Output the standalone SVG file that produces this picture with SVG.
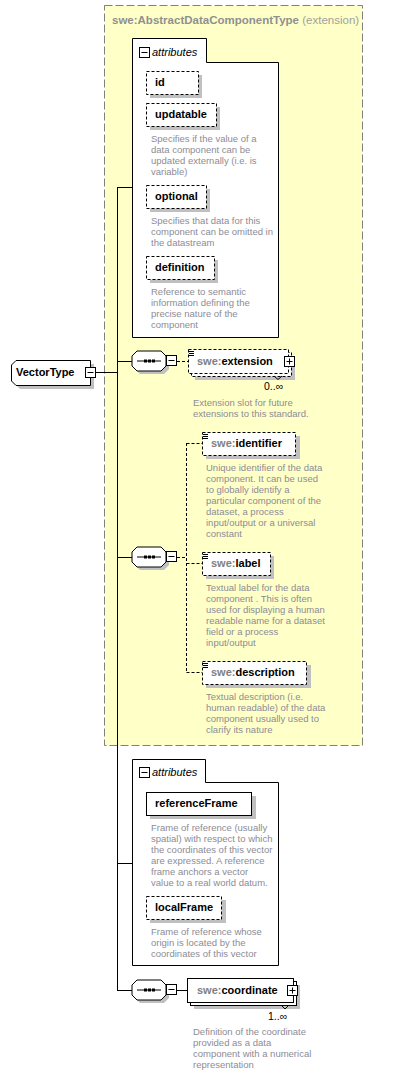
<svg xmlns="http://www.w3.org/2000/svg" width="406" height="1075" viewBox="0 0 406 1075">
<style>
.name{font-family:"Liberation Sans",Arial,sans-serif;font-size:11px;font-weight:bold;fill:#000}
.pre{fill:#808080}
.desc{font-family:"Liberation Sans",Arial,sans-serif;font-size:9.5px;fill:#8c8c96}
.attrlbl{font-family:"Liberation Sans",Arial,sans-serif;font-size:11px;font-style:italic;fill:#000}
.occ{font-family:"Liberation Sans",Arial,sans-serif;font-size:10.5px;fill:#000}
.shadow{fill:#c0c0c0;stroke:none}
.box{fill:#fff;stroke:#000;stroke-width:1}
.dbox{fill:#fff;stroke:#000;stroke-width:1;stroke-dasharray:3,2}
.line{stroke:#000;stroke-width:1;fill:none}
.dline{stroke:#000;stroke-width:1;fill:none;stroke-dasharray:3,2}
.icon{fill:#fff;stroke:#000;stroke-width:1}
</style>
<defs>
<g id="comp">
<polygon class="shadow" points="8,3 32,3 37,8 37,18 32,23 8,23 3,18 3,8"/>
<polygon class="box" points="5,0 29,0 34,5 34,15 29,20 5,20 0,15 0,5"/>
<line class="line" x1="5" y1="10" x2="29" y2="10"/>
<rect x="12" y="8.5" width="3" height="3" fill="#000"/>
<rect x="16" y="8.5" width="3" height="3" fill="#000"/>
<rect x="20" y="8.5" width="3" height="3" fill="#000"/>
<rect class="icon" x="34.5" y="4.5" width="10" height="10"/>
<line class="line" x1="36.5" y1="9.5" x2="42.5" y2="9.5"/>
</g>
<g id="minus">
<rect class="icon" x="0.5" y="0.5" width="10" height="10"/>
<line class="line" x1="2.5" y1="5.5" x2="8.5" y2="5.5"/>
</g>
<g id="plus">
<rect class="icon" x="0.5" y="0.5" width="10" height="10"/>
<line class="line" x1="2.5" y1="5.5" x2="8.5" y2="5.5"/>
<line class="line" x1="5.5" y1="2.5" x2="5.5" y2="8.5"/>
</g>
<g id="menu">
<line class="line" x1="0" y1="0.5" x2="5" y2="0.5"/>
<line class="line" x1="0" y1="2.5" x2="5" y2="2.5"/>
<line class="line" x1="0" y1="4.5" x2="5" y2="4.5"/>
</g>
</defs>

<g id="extensionGroup">
<rect x="104.5" y="5.5" width="258" height="740" fill="#ffffc8" stroke="#808080" stroke-width="1" stroke-dasharray="8,3"/>
<text x="112" y="24" font-family="Liberation Sans,Arial,sans-serif" font-size="11.5" font-weight="bold" fill="#909090">swe:AbstractDataComponentType <tspan font-weight="normal" fill="#a0a0a0">(extension)</tspan></text>
</g>

<g id="connectors">
<line class="line" x1="96" y1="372.5" x2="117" y2="372.5"/>
<line class="line" x1="117.5" y1="187" x2="117.5" y2="990.5"/>
<line class="line" x1="117" y1="187.5" x2="132" y2="187.5"/>
<line class="line" x1="117" y1="361.5" x2="132" y2="361.5"/>
<line class="line" x1="117" y1="557.5" x2="132" y2="557.5"/>
<line class="line" x1="117" y1="863.5" x2="132" y2="863.5"/>
<line class="line" x1="117" y1="990.5" x2="132" y2="990.5"/>
<line class="dline" x1="177" y1="361.5" x2="188" y2="361.5"/>
<line class="dline" x1="177" y1="557.5" x2="186.5" y2="557.5"/>
<line class="dline" x1="186.5" y1="443" x2="186.5" y2="672"/>
<line class="dline" x1="186.5" y1="443.5" x2="202" y2="443.5"/>
<line class="dline" x1="186.5" y1="563.5" x2="202" y2="563.5"/>
<line class="dline" x1="186.5" y1="672.5" x2="202" y2="672.5"/>
<line class="line" x1="177" y1="990.5" x2="187" y2="990.5"/>
</g>

<g id="VectorType">
<polygon class="shadow" points="20,364 94,364 94,389 20,389 15,384 15,369"/>
<polygon class="box" points="16,360.5 90.5,360.5 90.5,385.5 16,385.5 11.5,381 11.5,365"/>
<text class="name" x="16" y="376">VectorType</text>
<use href="#minus" x="85" y="367"/>
</g>

<g id="attributes1">
<polygon class="box" points="132.5,38.5 206.5,38.5 206.5,62.5 278.5,62.5 278.5,337.5 132.5,337.5"/>
<use href="#minus" x="139" y="47"/>
<text class="attrlbl" x="152" y="56">attributes</text>
</g>
<g id="attr_id">
<rect class="shadow" x="150" y="75" width="52" height="23"/>
<rect class="dbox" x="146.5" y="71.5" width="52" height="23"/>
<text class="name" x="155" y="86">id</text>
</g>
<g id="attr_updatable">
<rect class="shadow" x="150" y="107" width="70" height="23"/>
<rect class="dbox" x="146.5" y="103.5" width="70" height="23"/>
<text class="name" x="155" y="118">updatable</text>
<text class="desc" x="151" y="142">Specifies if the value of a</text>
<text class="desc" x="151" y="153">data component can be</text>
<text class="desc" x="151" y="164">updated externally (i.e. is</text>
<text class="desc" x="151" y="175">variable)</text>
</g>
<g id="attr_optional">
<rect class="shadow" x="150" y="189" width="60" height="23"/>
<rect class="dbox" x="146.5" y="185.5" width="60" height="23"/>
<text class="name" x="155" y="200">optional</text>
<text class="desc" x="151" y="224">Specifies that data for this</text>
<text class="desc" x="151" y="235">component can be omitted in</text>
<text class="desc" x="151" y="246">the datastream</text>
</g>
<g id="attr_definition">
<rect class="shadow" x="150" y="260" width="68" height="23"/>
<rect class="dbox" x="146.5" y="256.5" width="68" height="23"/>
<text class="name" x="155" y="271">definition</text>
<text class="desc" x="151" y="295">Reference to semantic</text>
<text class="desc" x="151" y="306">information defining the</text>
<text class="desc" x="151" y="317">precise nature of the</text>
<text class="desc" x="151" y="328">component</text>
</g>

<g id="seq1">
<use href="#comp" x="132" y="351"/>
</g>
<g id="swe_extension">
<rect class="shadow" x="195" y="356" width="100" height="24"/>
<rect class="dbox" x="191.5" y="352.5" width="100" height="24"/>
<rect class="dbox" x="188.5" y="349.5" width="100" height="24"/>
<use href="#menu" x="189" y="351"/>
<text class="name" x="197" y="365"><tspan class="pre">swe:</tspan>extension</text>
<use href="#plus" x="284" y="356"/>
<polyline class="line" points="274,376 278,379.5 282,376" stroke="#888"/>
<text class="occ" x="264" y="390">0..∞</text>
<text class="desc" x="193" y="406">Extension slot for future</text>
<text class="desc" x="193" y="417">extensions to this standard.</text>
</g>

<g id="seq2">
<use href="#comp" x="132" y="547"/>
</g>
<g id="swe_identifier">
<rect class="shadow" x="206" y="436" width="94" height="23"/>
<rect class="dbox" x="202.5" y="432.5" width="93" height="23"/>
<use href="#menu" x="203" y="434"/>
<text class="name" x="211" y="447"><tspan class="pre">swe:</tspan>identifier</text>
<text class="desc" x="206" y="471">Unique identifier of the data</text>
<text class="desc" x="206" y="482">component. It can be used</text>
<text class="desc" x="206" y="493">to globally identify a</text>
<text class="desc" x="206" y="504">particular component of the</text>
<text class="desc" x="206" y="515">dataset, a process</text>
<text class="desc" x="206" y="526">input/output or a universal</text>
<text class="desc" x="206" y="537">constant</text>
</g>
<g id="swe_label">
<rect class="shadow" x="206" y="556" width="68" height="23"/>
<rect class="dbox" x="202.5" y="552.5" width="68" height="23"/>
<use href="#menu" x="203" y="554"/>
<text class="name" x="211" y="567"><tspan class="pre">swe:</tspan>label</text>
<text class="desc" x="206" y="591">Textual label for the data</text>
<text class="desc" x="206" y="602">component . This is often</text>
<text class="desc" x="206" y="613">used for displaying a human</text>
<text class="desc" x="206" y="624">readable name for a dataset</text>
<text class="desc" x="206" y="635">field or a process</text>
<text class="desc" x="206" y="646">input/output</text>
</g>
<g id="swe_description">
<rect class="shadow" x="206" y="665" width="105" height="23"/>
<rect class="dbox" x="202.5" y="661.5" width="104" height="23"/>
<use href="#menu" x="203" y="663"/>
<text class="name" x="211" y="676"><tspan class="pre">swe:</tspan>description</text>
<text class="desc" x="206" y="700">Textual description (i.e.</text>
<text class="desc" x="206" y="711">human readable) of the data</text>
<text class="desc" x="206" y="722">component usually used to</text>
<text class="desc" x="206" y="733">clarify its nature</text>
</g>

<g id="attributes2">
<polygon class="box" points="132.5,759.5 205.5,759.5 205.5,782.5 278.5,782.5 278.5,965.5 132.5,965.5"/>
<use href="#minus" x="139" y="767"/>
<text class="attrlbl" x="152" y="776">attributes</text>
</g>
<g id="attr_referenceFrame">
<rect class="shadow" x="150" y="796" width="106" height="23"/>
<rect class="box" x="146.5" y="792.5" width="105" height="23"/>
<text class="name" x="155" y="807">referenceFrame</text>
<text class="desc" x="151" y="831">Frame of reference (usually</text>
<text class="desc" x="151" y="842">spatial) with respect to which</text>
<text class="desc" x="151" y="853">the coordinates of this vector</text>
<text class="desc" x="151" y="864">are expressed. A reference</text>
<text class="desc" x="151" y="875">frame anchors a vector</text>
<text class="desc" x="151" y="886">value to a real world datum.</text>
</g>
<g id="attr_localFrame">
<rect class="shadow" x="150" y="900" width="76" height="23"/>
<rect class="dbox" x="146.5" y="896.5" width="75" height="23"/>
<text class="name" x="155" y="911">localFrame</text>
<text class="desc" x="151" y="935">Frame of reference whose</text>
<text class="desc" x="151" y="946">origin is located by the</text>
<text class="desc" x="151" y="957">coordinates of this vector</text>
</g>

<g id="seq3">
<use href="#comp" x="132" y="980"/>
</g>
<g id="swe_coordinate">
<rect class="shadow" x="194" y="985" width="106" height="24"/>
<rect class="box" x="190.5" y="981.5" width="106" height="24"/>
<rect class="box" x="187.5" y="978.5" width="106" height="24"/>
<text class="name" x="197" y="994"><tspan class="pre">swe:</tspan>coordinate</text>
<use href="#plus" x="287" y="985"/>
<polyline class="line" points="281,1005 285,1009 289,1005" stroke="#888"/>
<text class="occ" x="268" y="1020">1..∞</text>
<text class="desc" x="193" y="1035">Definition of the coordinate</text>
<text class="desc" x="193" y="1046">provided as a data</text>
<text class="desc" x="193" y="1057">component with a numerical</text>
<text class="desc" x="193" y="1068">representation</text>
</g>
</svg>
